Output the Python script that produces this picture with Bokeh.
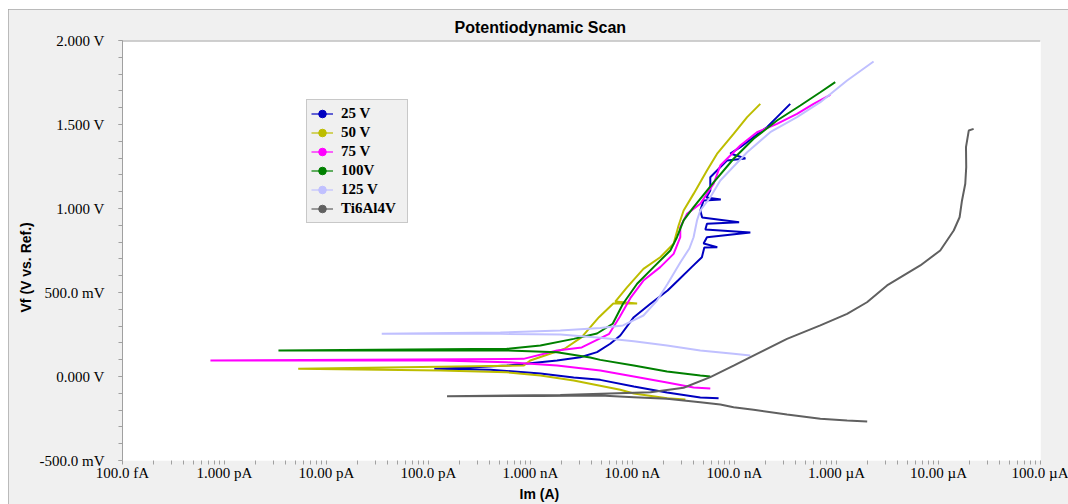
import numpy as np
from bokeh.plotting import figure
from bokeh.models import (Range1d, FixedTicker, CustomJSTickFormatter, Legend,
                          LegendItem, Title, Span)
from bokeh.embed import file_html
from bokeh.resources import INLINE

# ---------------- data (current in A, potential in V) ----------------
series_names = ["25 V", "50 V", "75 V", "100V", "125 V", "Ti6Al4V"]
series_colors = ["#0000c0", "#bdbd00", "#ff00ff", "#008000", "#c0c0ff", "#606060"]

i_25v = [6.98e-8, 4.62e-8, 2.18e-8, 1.03e-8, 4.83e-9, 2.65e-9, 1.25e-9, 4.04e-10,
         1.14e-10, 2.57e-10, 5.86e-10, 1.82e-9, 3.08e-9, 4.49e-9, 6.05e-9, 7.59e-9,
         1.03e-8, 1.50e-8, 2.21e-8, 2.79e-8, 3.80e-8, 4.79e-8, 5.06e-8, 6.78e-8,
         4.98e-8, 5.37e-8, 1.43e-7, 5.18e-8, 5.37e-8, 1.11e-7, 4.82e-8, 4.62e-8,
         4.98e-8, 7.34e-8, 5.30e-8, 5.79e-8, 5.79e-8, 8.43e-8, 1.28e-7, 9.10e-8,
         1.14e-7, 1.54e-7, 2.08e-7, 2.61e-7, 3.52e-7]
e_25v = [-0.129, -0.125, -0.095, -0.060, -0.020, -0.006, 0.018, 0.040,
         0.046, 0.054, 0.065, 0.095, 0.115, 0.145, 0.195, 0.244,
         0.353, 0.433, 0.512, 0.571, 0.651, 0.710, 0.768, 0.770,
         0.792, 0.829, 0.857, 0.875, 0.909, 0.918, 0.946, 0.988,
         1.048, 1.054, 1.065, 1.107, 1.186, 1.286, 1.298, 1.327,
         1.365, 1.425, 1.484, 1.544, 1.623]

i_50v = [3.30e-8, 2.18e-8, 1.03e-8, 7.59e-9, 2.65e-9, 1.25e-9, 5.86e-10, 1.31e-10,
         5.28e-12, 8.55e-10, 9.95e-10, 2.16e-9, 3.18e-9, 4.69e-9, 6.48e-9, 1.11e-8,
         6.78e-9, 8.83e-9, 1.28e-8, 1.87e-8, 2.53e-8, 2.83e-8, 3.17e-8, 3.97e-8,
         5.37e-8, 6.73e-8, 9.80e-8, 1.33e-7, 1.79e-7]
e_50v = [-0.137, -0.129, -0.101, -0.079, -0.024, 0.006, 0.025, 0.036,
         0.046, 0.065, 0.095, 0.165, 0.234, 0.353, 0.435, 0.435,
         0.446, 0.530, 0.641, 0.710, 0.790, 0.899, 0.988, 1.087,
         1.226, 1.325, 1.444, 1.544, 1.623]

i_75v = [5.79e-8, 3.97e-8, 2.18e-8, 1.03e-8, 4.83e-9, 1.82e-9, 5.86e-10, 1.31e-10,
         7.28e-13, 8.55e-10, 1.82e-9, 3.18e-9, 5.91e-9, 7.46e-9, 9.52e-9, 1.28e-8,
         1.87e-8, 2.53e-8, 2.94e-8, 2.94e-8, 3.42e-8, 4.62e-8, 6.24e-8, 7.26e-8,
         1.14e-7, 1.66e-7, 2.61e-7, 4.10e-7, 5.96e-7, 8.69e-7]
e_75v = [-0.071, -0.065, -0.036, 0.000, 0.036, 0.065, 0.085, 0.095,
         0.095, 0.105, 0.155, 0.173, 0.254, 0.353, 0.466, 0.571,
         0.651, 0.730, 0.829, 0.889, 0.968, 1.028, 1.147, 1.256,
         1.375, 1.454, 1.504, 1.563, 1.623, 1.677]

i_100v = [5.79e-8, 4.62e-8, 2.18e-8, 1.03e-8, 4.83e-9, 3.85e-9, 1.82e-9, 5.86e-10,
          3.38e-12, 5.86e-10, 1.25e-9, 2.65e-9, 4.49e-9, 6.40e-9, 8.07e-9, 1.11e-8,
          1.61e-8, 2.35e-8, 2.73e-8, 3.17e-8, 3.97e-8, 5.37e-8, 6.24e-8, 9.80e-8,
          1.54e-7, 2.61e-7, 4.42e-7, 6.94e-7, 9.72e-7]
e_100v = [0.000, 0.006, 0.030, 0.065, 0.099, 0.113, 0.145, 0.155,
          0.155, 0.165, 0.185, 0.224, 0.256, 0.314, 0.433, 0.552,
          0.651, 0.750, 0.829, 0.929, 1.008, 1.107, 1.156, 1.296,
          1.415, 1.524, 1.613, 1.692, 1.752]

i_125v = [1.43e-7, 9.80e-8, 4.62e-8, 2.18e-8, 1.03e-8, 4.83e-9, 1.96e-9, 5.06e-10,
          3.48e-11, 5.06e-10, 1.96e-9, 4.83e-9, 8.07e-9, 1.28e-8, 1.74e-8, 2.21e-8,
          2.94e-8, 3.61e-8, 3.97e-8, 4.29e-8, 4.62e-8, 5.79e-8, 7.26e-8, 1.33e-7,
          2.24e-7, 4.10e-7, 6.94e-7, 1.27e-6, 2.31e-6]
e_125v = [0.125, 0.135, 0.155, 0.185, 0.210, 0.230, 0.250, 0.254,
          0.254, 0.262, 0.274, 0.289, 0.304, 0.363, 0.452, 0.552,
          0.679, 0.762, 0.829, 0.929, 0.988, 1.067, 1.167, 1.335,
          1.454, 1.544, 1.633, 1.762, 1.875]

i_ti64 = [2.00e-6, 1.27e-6, 6.94e-7, 3.27e-7, 1.54e-7, 9.80e-8, 7.26e-8, 4.62e-8,
          2.18e-8, 1.03e-8, 4.83e-9, 1.25e-9, 1.52e-10, 1.96e-9, 1.50e-8, 3.17e-8,
          5.79e-8, 9.80e-8, 1.66e-7, 3.27e-7, 6.94e-7, 1.27e-6, 1.99e-6, 3.13e-6,
          6.63e-6, 1.04e-5, 1.41e-5, 1.61e-5, 1.70e-5, 1.83e-5, 1.87e-5, 1.86e-5,
          1.98e-5, 2.21e-5]
e_ti64 = [-0.268, -0.262, -0.252, -0.226, -0.198, -0.183, -0.167, -0.153,
          -0.133, -0.123, -0.113, -0.116, -0.117, -0.110, -0.094, -0.067,
          -0.004, 0.065, 0.135, 0.224, 0.304, 0.373, 0.442, 0.542,
          0.661, 0.750, 0.869, 0.948, 1.048, 1.147, 1.246, 1.365,
          1.464, 1.474]

series_currents = [i_25v, i_50v, i_75v, i_100v, i_125v, i_ti64]
series_potentials = [e_25v, e_50v, e_75v, e_100v, e_125v, e_ti64]

x_tick_values = [1e-13, 1e-12, 1e-11, 1e-10, 1e-9, 1e-8, 1e-7, 1e-6, 1e-5, 1e-4]
x_tick_labels = ["100.0 fA", "1.000 pA", "10.00 pA", "100.0 pA", "1.000 nA",
                 "10.00 nA", "100.0 nA", "1.000 \u00b5A", "10.00 \u00b5A", "100.0 \u00b5A"]
y_tick_values = [-0.5, 0.0, 0.5, 1.0, 1.5, 2.0]
y_tick_labels = ["-500.0 mV", "0.000 V", "500.0 mV", "1.000 V", "1.500 V", "2.000 V"]

# ---------------- figure ----------------
GRID = "#a0a0a0"
p = figure(width=1060, height=495, x_axis_type="log",
           x_range=Range1d(1e-13, 1e-4), y_range=Range1d(-0.5, 2.0),
           output_backend="svg", toolbar_location=None,
           title="Potentiodynamic Scan",
           min_border_left=114, min_border_right=28,
           min_border_top=31, min_border_bottom=44,
           background_fill_color="white", border_fill_color="#f0f0f0")
p.styles = {"margin-left": "8px", "margin-top": "9px",
            "outline": "1px solid #a8a8a8", "outline-offset": "-1px"}
p.outline_line_color = None
p.grid.visible = False
p.add_layout(Span(location=y_tick_values[-1], dimension="width",
                  line_color=GRID, line_width=2))

p.title.align = "left"
p.title.offset = 332
p.title.text_font = "Liberation Sans"
p.title.text_font_size = "16px"
p.title.text_font_style = "bold"
p.title.text_color = "black"
p.title.standoff = 10

x_minor = [k * d for d in x_tick_values[:-1] for k in range(2, 10)]
xa = p.xaxis[0]
xa.ticker = FixedTicker(ticks=x_tick_values, minor_ticks=x_minor)
xa.formatter = CustomJSTickFormatter(args=dict(vals=x_tick_values, labs=x_tick_labels), code="""
    const lt = Math.log10(tick);
    let best = 0, bd = 1e9;
    for (let i = 0; i < vals.length; i++) {
        const d = Math.abs(lt - Math.log10(vals[i]));
        if (d < bd) { bd = d; best = i; }
    }
    return labs[best];
""")

y_minor = [round(-0.5 + 0.1 * k, 2) for k in range(26)]
ya = p.yaxis[0]
ya.ticker = FixedTicker(ticks=y_tick_values, minor_ticks=y_minor)
ya.formatter = CustomJSTickFormatter(args=dict(vals=y_tick_values, labs=y_tick_labels), code="""
    let best = 0, bd = 1e9;
    for (let i = 0; i < vals.length; i++) {
        const d = Math.abs(tick - vals[i]);
        if (d < bd) { bd = d; best = i; }
    }
    return labs[best];
""")

for ax in (xa, ya):
    ax.major_label_text_font = "Liberation Serif"
    ax.major_label_text_font_size = "15px"
    ax.major_label_text_color = "black"
    ax.major_tick_in = 0
    ax.major_tick_out = 4
    ax.minor_tick_in = 0
    ax.minor_tick_out = 4
    ax.major_tick_line_color = GRID
    ax.minor_tick_line_color = GRID
    ax.axis_line_color = GRID
xa.axis_line_color = None
xa.major_label_standoff = 0
ya.major_label_standoff = 14

p.add_layout(Title(text="Im (A)", align="left", offset=397, standoff=0,
                   text_font="Liberation Sans", text_font_size="14px",
                   text_font_style="bold", text_color="black"), "below")
p.add_layout(Title(text="Vf (V vs. Ref.)", align="left", offset=148, standoff=6,
                   text_font="Liberation Sans", text_font_size="14px",
                   text_font_style="bold", text_color="black"), "left")

# ---------------- curves ----------------
no_point = np.array([np.nan, np.nan])
items = []
for name, col, cur, pot in zip(series_names, series_colors, series_currents, series_potentials):
    p.line(cur, pot, line_color=col, line_width=2)
    lg_line = p.line(no_point, no_point, line_color=col, line_width=1.2)
    lg_dot = p.scatter(no_point, no_point, marker="circle", size=9,
                       fill_color=col, line_color=col)
    items.append(LegendItem(label=name, renderers=[lg_line, lg_dot]))

legend = Legend(items=items, location=(184, 237),
                label_text_font="Liberation Serif", label_text_font_style="bold",
                label_text_font_size="15px", label_text_color="black",
                glyph_width=22, glyph_height=19, label_height=19, label_width=62,
                label_standoff=8, spacing=0, padding=4, margin=0,
                border_line_color=GRID, background_fill_color="#f0f0f0",
                background_fill_alpha=1.0)
p.add_layout(legend)

open("out.html", "w").write(file_html(p, INLINE))
